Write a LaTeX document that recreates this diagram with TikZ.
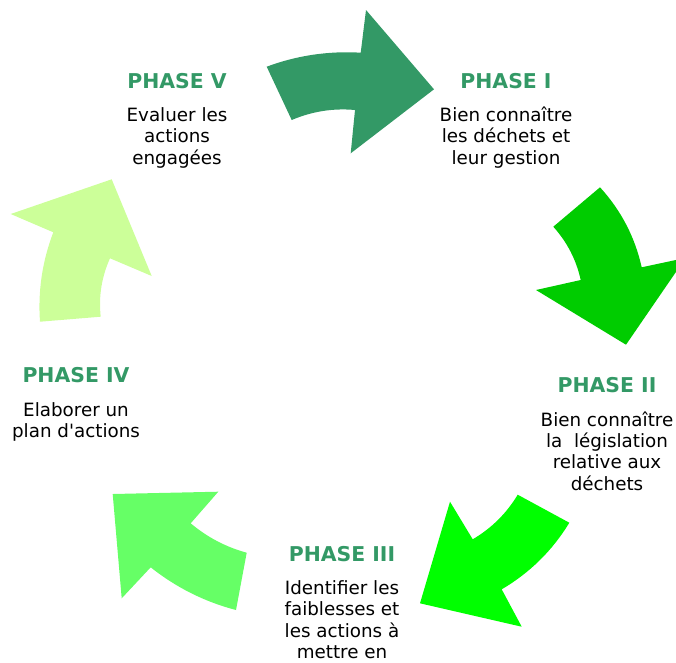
\documentclass[tikz,border=0pt]{standalone}
\usepackage{fontspec}
\setmainfont{DejaVu Sans}
\definecolor{cA}{HTML}{339966}
\definecolor{cB}{HTML}{00CC00}
\definecolor{cC}{HTML}{00FF00}
\definecolor{cD}{HTML}{66FF66}
\definecolor{cE}{HTML}{CCFF99}
\tikzset{
  cyclearrow/.style={draw=none},
  heading/.style={font=\bfseries\fontsize{20.4}{24}\selectfont, text=cA, inner sep=0pt, anchor=base},
  bodyline/.style={font=\fontsize{18.3}{22}\selectfont, text=black, inner sep=0pt, anchor=base}
}
\begin{document}
\begin{tikzpicture}[x=1pt,y=-1pt]
\useasboundingbox (0,0) rectangle (676,662);
% Arrow 1 (Phase V -> Phase I)
\fill[cyclearrow, cA] (266.7,66.7) .. controls (297,55.4) and (328.4,50.8) .. (360.7,52.7)
  -- (366,10) -- (434,89.3) -- (350.7,153.3) -- (355,110)
  .. controls (333.1,108) and (312,111.4) .. (291.7,120) -- cycle;
% Arrow 2 (Phase I -> Phase II)
\fill[cyclearrow, cB] (600,187.3) .. controls (621,210.3) and (634.9,236.9) .. (641.7,267.3)
  -- (685.6,257.9) -- (626,344.7) -- (536,290) -- (580.7,280)
  .. controls (576.3,259.8) and (567.1,242.1) .. (553.3,226.7) -- cycle;
% Arrow 3 (Phase II -> Phase III)
\fill[cyclearrow, cC] (569.3,522.7) .. controls (552.4,550.6) and (529.8,572.8) .. (501.7,589.3)
  -- (521.7,626.7) -- (420,603.3) -- (450,501.7) -- (472.7,539.3)
  .. controls (491.5,528.2) and (506.5,513.4) .. (517.7,494.7) -- cycle;
% Arrow 4 (Phase III -> Phase IV)
\fill[cyclearrow, cD] (236,610) .. controls (204.6,601.8) and (176.1,587.5) .. (150.7,567.3)
  -- (121.7,598.3) -- (112.7,494) -- (218.3,491.7) -- (190.7,523.3)
  .. controls (207.2,537.2) and (225.8,547) .. (246.7,552.7) -- cycle;
% Arrow 5 (Phase IV -> Phase V)
\fill[cyclearrow, cE] (40,321.7) .. controls (37.8,290.9) and (42.3,261.1) .. (53.3,232.3)
  -- (10.7,214) -- (111.7,179.3) -- (151.7,276) -- (110,258.3)
  .. controls (101.6,277) and (98.5,296.4) .. (100.7,316.7) -- cycle;
% Phase I
\node[heading] (h1) at (506,88) {PHASE I};
\node[bodyline] (t1a) at (506,121) {Bien connaître};
\node[bodyline] (t1b) at (506,142.5) {les déchets et};
\node[bodyline] (t1c) at (506,164) {leur gestion};
% Phase II
\node[heading] (h2) at (607,392) {PHASE II};
\node[bodyline] (t2a) at (607,426) {Bien connaître};
\node[bodyline] (t2b) at (607,447.3) {la~ législation};
\node[bodyline] (t2c) at (607,468.6) {relative aux};
\node[bodyline] (t2d) at (607,490) {déchets};
% Phase III
\node[heading] (h3) at (342,561.5) {PHASE III};
\node[bodyline] (t3a) at (342,594.5) {Identifier les};
\node[bodyline] (t3b) at (342,615.8) {faiblesses et};
\node[bodyline] (t3c) at (342,637) {les actions à};
\node[bodyline] (t3d) at (342,658) {mettre en};
% Phase IV
\node[heading] (h4) at (76,382) {PHASE IV};
\node[bodyline] (t4a) at (76,416) {Elaborer un};
\node[bodyline] (t4b) at (76,437) {plan d\textquotesingle actions};
% Phase V
\node[heading] (h5) at (177,88) {PHASE V};
\node[bodyline] (t5a) at (177,121) {Evaluer les};
\node[bodyline] (t5b) at (177,142.5) {actions};
\node[bodyline] (t5c) at (177,164) {engagées};
\end{tikzpicture}
\end{document}
